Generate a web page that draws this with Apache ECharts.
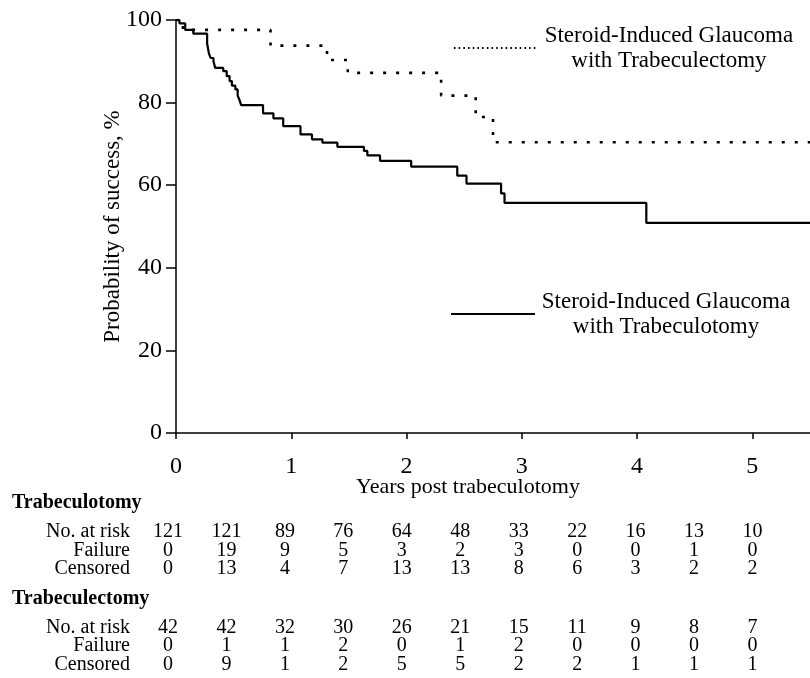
<!DOCTYPE html>
<html><head><meta charset="utf-8">
<script src="https://cdn.jsdelivr.net/npm/echarts@6/dist/echarts.min.js"></script>
<style>html,body{margin:0;padding:0;background:#fff}#c{width:810px;height:678px}</style>
</head><body><div id="c"></div>
<script>
// Kaplan-Meier steps: time (years) and survival (%)
const otomyTimes = [0, 0.03, 0.08, 0.15, 0.27, 0.285, 0.30, 0.325, 0.34, 0.41, 0.44, 0.465, 0.485, 0.515, 0.535, 0.55, 0.565, 0.755, 0.845, 0.93, 1.08, 1.18, 1.27, 1.40, 1.63, 1.66, 1.77, 2.04, 2.44, 2.52, 2.82, 2.85, 4.08, 5.5];
const otomySurv  = [100, 99.2, 97.6, 96.7, 94.3, 92.0, 90.8, 90.0, 88.4, 87.6, 86.4, 85.2, 84.1, 83.2, 81.7, 80.7, 79.4, 77.4, 76.2, 74.3, 72.3, 71.1, 70.3, 69.3, 68.3, 67.2, 65.9, 64.5, 62.3, 60.4, 58.0, 55.7, 50.9, 50.9];
const ectomyTimes = [0, 0.06, 0.82, 1.31, 1.49, 2.30, 2.60, 2.75, 5.5];
const ectomySurv  = [100, 97.6, 93.8, 90.3, 87.2, 81.7, 76.5, 70.4, 70.4];

const xTicks = [0, 1, 2, 3, 4, 5];
const yTicks = [0, 20, 40, 60, 80, 100];

const ectomyName = 'Steroid-Induced Glaucoma with Trabeculectomy';
const otomyName = 'Steroid-Induced Glaucoma with Trabeculotomy';
const ectomyLegendLines = ['Steroid-Induced Glaucoma', 'with Trabeculectomy'];
const otomyLegendLines = ['Steroid-Induced Glaucoma', 'with Trabeculotomy'];

const groupTitles = ['Trabeculotomy', 'Trabeculectomy'];
const rowLabels = ['No. at risk', 'Failure', 'Censored'];
const otomyAtRisk   = [121, 121, 89, 76, 64, 48, 33, 22, 16, 13, 10];
const otomyFailure  = [0, 19, 9, 5, 3, 2, 3, 0, 0, 1, 0];
const otomyCensored = [0, 13, 4, 7, 13, 13, 8, 6, 3, 2, 2];
const ectomyAtRisk   = [42, 42, 32, 30, 26, 21, 15, 11, 9, 8, 7];
const ectomyFailure  = [0, 1, 1, 2, 0, 1, 2, 0, 0, 0, 0];
const ectomyCensored = [0, 9, 1, 2, 5, 5, 2, 2, 1, 1, 1];

const FONT = "'Liberation Serif','Times New Roman',Times,serif";
const chart = echarts.init(document.getElementById('c'), null, {renderer: 'canvas'});

function pairs(t, s) { return t.map((v, i) => [v, s[i]]); }

function legendCfg(name, lines, top, left, lineStyle) {
  return {
    data: [name], top: top, left: left, padding: 0, orient: 'vertical',
    itemWidth: 84, itemHeight: 12, itemGap: 0,
    selectedMode: false,
    itemStyle: {opacity: 0},
    formatter: () => lines.map(l => '{a|' + l + '}').join('\n'),
    textStyle: {color: '#000', fontFamily: FONT, fontSize: 23,
      rich: {a: {width: 252, align: 'center', fontFamily: FONT, fontSize: 23, lineHeight: 25, color: '#000'}}},
    lineStyle: lineStyle
  };
}

// table graphics
const graphics = [];
const colX0 = 168, colStep = 58.45;
function addGroup(title, yTitle, rows) {
  graphics.push({type: 'text', style: {text: title, x: 12, y: yTitle, fill: '#000',
    fontFamily: FONT, fontSize: 20, fontWeight: 'bold', align: 'left', verticalAlign: 'middle'}});
  rows.forEach((vals, r) => {
    const y = yTitle + 29 + r * 18.4;
    graphics.push({type: 'text', style: {text: rowLabels[r], x: 130, y: y, fill: '#000',
      fontFamily: FONT, fontSize: 20, align: 'right', verticalAlign: 'middle'}});
    vals.forEach((v, i) => {
      graphics.push({type: 'text', style: {text: String(v), x: colX0 + i * colStep, y: y, fill: '#000',
        fontFamily: FONT, fontSize: 20, align: 'center', verticalAlign: 'middle'}});
    });
  });
}
addGroup(groupTitles[0], 503, [otomyAtRisk, otomyFailure, otomyCensored]);
addGroup(groupTitles[1], 598.5, [ectomyAtRisk, ectomyFailure, ectomyCensored]);

const option = {
  backgroundColor: '#fff',
  animation: false,
  grid: {left: 176, top: 20, right: 0, bottom: 245, containLabel: false},
  legend: [
    legendCfg(ectomyName, ectomyLegendLines, 24, 453, {type: [1.6, 3.1], width: 1.8, color: '#000'}),
    legendCfg(otomyName, otomyLegendLines, 290, 450, {type: 'solid', width: 2, color: '#000'})
  ],
  xAxis: {
    type: 'value', min: 0, max: 5.5,
    name: 'Years post trabeculotomy', nameLocation: 'middle', nameGap: 43, nameMoveOverlap: false,
    nameTextStyle: {color: '#000', fontFamily: FONT, fontSize: 22, padding: [0, 50, 0, 0]},
    axisLine: {show: true, onZero: false, lineStyle: {color: '#000', width: 1.5}},
    axisTick: {show: true, length: 6, customValues: xTicks, lineStyle: {color: '#000', width: 1.5}},
    axisLabel: {customValues: xTicks, color: '#000', fontFamily: FONT, fontSize: 24, margin: 22},
    splitLine: {show: false}
  },
  yAxis: {
    type: 'value', min: 0, max: 100, interval: 20,
    name: 'Probability of success, %', nameLocation: 'middle', nameGap: 52, nameMoveOverlap: false,
    nameTextStyle: {color: '#000', fontFamily: FONT, fontSize: 23},
    axisLine: {show: true, lineStyle: {color: '#000', width: 1.5}},
    axisTick: {show: true, length: 10, customValues: yTicks, lineStyle: {color: '#000', width: 1.5}},
    axisLabel: {customValues: yTicks, color: '#000', fontFamily: FONT, fontSize: 24, margin: 14},
    splitLine: {show: false}
  },
  series: [
    {name: ectomyName, type: 'line', step: 'end', symbol: 'none', showSymbol: false,
      data: pairs(ectomyTimes, ectomySurv), z: 3,
      lineStyle: {color: '#000', width: 2.6, type: [3, 10], cap: 'butt'}, itemStyle: {color: '#000'}},
    {name: otomyName, type: 'line', step: 'end', symbol: 'none', showSymbol: false,
      data: pairs(otomyTimes, otomySurv), z: 2,
      lineStyle: {color: '#000', width: 2.2, type: 'solid'}, itemStyle: {color: '#000'}}
  ],
  graphic: graphics
};
chart.setOption(option);
</script>
</body></html>
